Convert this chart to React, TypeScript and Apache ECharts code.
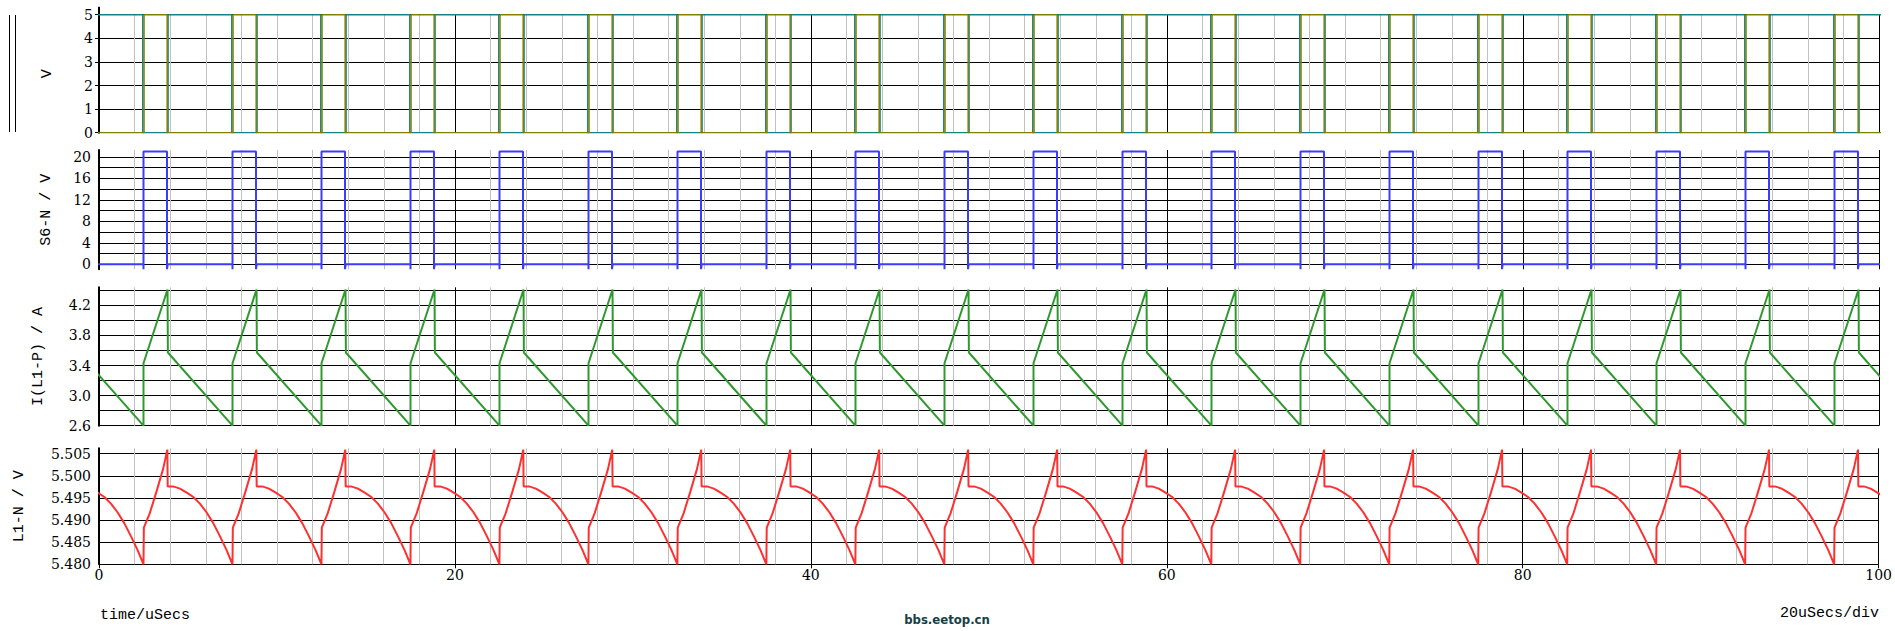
import React, { useEffect, useRef } from 'react';
import * as echarts from 'echarts';

const SERIF = '"DejaVu Serif", "Liberation Serif", serif';
const MONO = '"Liberation Mono", "DejaVu Sans Mono", monospace';

// time axis (µs)
const X_MIN = 0;
const X_MAX = 100;
const X_STEP = 20;

// switch-on instants of the converter (µs), read from the rising edges
const ON_TIMES = [-2.5, 2.5, 7.5, 12.5, 17.5, 22.5, 27.5, 32.5, 37.5, 42.5, 47.5, 52.5, 57.5, 62.5, 67.5, 72.5, 77.5, 82.5, 87.5, 92.5, 97.5, 102.5];

// gate signals (V): high side on-window, low side off-window (offsets from switch-on)
const GATE_LEVEL = 5;
const HS_WINDOW = [0.03, 1.33];
const LS_WINDOW = [-0.04, 1.38];

// S6-N switch node: [offset µs, V]
const S6_SHAPE = [[0, 0], [0, -0.9], [0, 21], [1.32, 21], [1.32, -0.9], [1.36, 0]];

// I(L1-P) per switching cycle: [offset µs, A]
const I_SHAPE = [[0, 2.6], [0, 3.43], [1.35, 4.41], [1.37, 3.573], [5, 2.6]];

// L1-N per switching cycle: [offset µs, V]
const V_SHAPE = [
  [0, 5.48], [0.02, 5.4883], [0.35, 5.4915], [0.72, 5.4963], [1.1, 5.5015], [1.34, 5.5059],
  [1.36, 5.4976], [1.67, 5.4976], [2.05, 5.4971], [2.43, 5.4962], [2.8, 5.4952], [3.17, 5.4937],
  [3.55, 5.4917], [3.92, 5.4893], [4.3, 5.4863], [4.67, 5.4832], [5.0, 5.48],
];

const buildGate = (win: number[], inside: number, outside: number) => {
  const pts: number[][] = [];
  ON_TIMES.forEach((t) => {
    pts.push([t + win[0], outside], [t + win[0], inside], [t + win[1], inside], [t + win[1], outside]);
  });
  return pts;
};

const buildFromShape = (shape: number[][]) => {
  const pts: number[][] = [];
  ON_TIMES.forEach((t) => {
    shape.forEach(([dt, v]) => pts.push([+(t + dt).toFixed(3), v]));
  });
  return pts;
};

const highSide = buildGate(HS_WINDOW, GATE_LEVEL, 0);
const lowSide = buildGate(LS_WINDOW, 0, GATE_LEVEL);
const s6n = buildFromShape(S6_SHAPE);
const iL1 = buildFromShape(I_SHAPE);
const vL1 = buildFromShape(V_SHAPE);

const isStep = (v: number, base: number, step: number) => {
  const k = Math.round((v - base) / step);
  return Math.abs(v - (base + k * step)) < step * 1e-4 ? k : null;
};

const GRIDS = [
  { top: 14.7, height: 118 },
  { top: 150, height: 119.3 },
  { top: 287.3, height: 138.4 },
  { top: 448.3, height: 116 },
];

const App: React.FC = () => {
  const ref = useRef<HTMLDivElement>(null);

  useEffect(() => {
    if (!ref.current) return;
    const chart = echarts.init(ref.current, undefined, { renderer: 'svg' });

    const labelStyle = { color: '#000', fontFamily: SERIF, fontSize: 14, margin: 8 };
    const nameStyle = { color: '#000', fontFamily: MONO, fontSize: 15 };
    const yCommon = (i: number) => ({
      type: 'value',
      gridIndex: i,
      nameLocation: 'middle',
      nameTextStyle: nameStyle,
      axisLine: { show: true, onZero: false, lineStyle: { color: '#000', width: 2 } },
      axisTick: { show: false },
      splitLine: { show: true, showMaxLine: false, lineStyle: { color: '#000', width: 1 } },
    });

    const option: any = {
      animation: false,
      backgroundColor: '#fff',
      textStyle: { fontFamily: SERIF },
      grid: GRIDS.map((g) => ({ left: 99, width: 1780, top: g.top, height: g.height, containLabel: false })),
      xAxis: GRIDS.map((_, i) => ({
        type: 'value',
        gridIndex: i,
        min: X_MIN,
        max: X_MAX,
        interval: X_STEP,
        axisLine: { show: false },
        axisTick: { show: i === 3, length: 4, lineStyle: { color: '#000' } },
        axisLabel: { show: i === 3, color: '#000', fontFamily: SERIF, fontSize: 14, margin: 4 },
        splitLine: { show: true, lineStyle: { color: '#000', width: 1 } },
        minorTick: { show: false, splitNumber: 10 },
        minorSplitLine: { show: true, lineStyle: { color: '#c0c0c0', width: 1 } },
      })),
      yAxis: [
        {
          ...yCommon(0),
          name: 'V',
          nameGap: 44,
          min: 0,
          max: 5,
          interval: 1,
          splitLine: { show: true, lineStyle: { color: '#000', width: 1 } },
          axisTick: { show: true, inside: false, length: 4, lineStyle: { color: '#000' } },
          axisLabel: {
            ...labelStyle,
            margin: 6,
            formatter: (v: number) => (isStep(v, 0, 1) === null ? '' : String(Math.round(v))),
          },
        },
        {
          ...yCommon(1),
          name: 'S6-N / V',
          nameGap: 45,
          min: -0.93,
          max: 21.3,
          minInterval: 2,
          maxInterval: 2,
          splitLine: { show: true, showMinLine: false, showMaxLine: false, lineStyle: { color: '#000', width: 1 } },
          axisLabel: {
            ...labelStyle,
            formatter: (v: number) => {
              const k = isStep(v, 0, 4);
              return k === null ? '' : String(Math.round(v));
            },
          },
        },
        {
          ...yCommon(2),
          name: 'I(L1-P) / A',
          nameGap: 53,
          min: 2.6,
          max: 4.44,
          interval: 0.2,
          axisLabel: {
            ...labelStyle,
            formatter: (v: number) => {
              const k = isStep(v, 2.6, 0.4);
              return k === null || v > 4.3 ? '' : v.toFixed(1);
            },
          },
        },
        {
          ...yCommon(3),
          name: 'L1-N / V',
          nameGap: 72,
          min: 5.48,
          max: 5.5062,
          interval: 0.005,
          axisLabel: {
            ...labelStyle,
            formatter: (v: number) => (isStep(v, 5.48, 0.005) === null ? '' : v.toFixed(3)),
          },
        },
      ],
      series: [
        { name: 'Low side gate', type: 'line', xAxisIndex: 0, yAxisIndex: 0, data: lowSide, showSymbol: false, symbol: 'none', lineStyle: { color: '#168282', width: 1.5 }, itemStyle: { color: '#168282' } },
        { name: 'High side gate', type: 'line', xAxisIndex: 0, yAxisIndex: 0, data: highSide, showSymbol: false, symbol: 'none', lineStyle: { color: '#808000', width: 1.5 }, itemStyle: { color: '#808000' } },
        { name: 'S6-N', type: 'line', xAxisIndex: 1, yAxisIndex: 1, data: s6n, showSymbol: false, symbol: 'none', lineStyle: { color: '#3c3cff', width: 2 }, itemStyle: { color: '#3c3cff' } },
        { name: 'I(L1-P)', type: 'line', xAxisIndex: 2, yAxisIndex: 2, data: iL1, showSymbol: false, symbol: 'none', lineStyle: { color: '#2e9a2e', width: 2 }, itemStyle: { color: '#2e9a2e' } },
        { name: 'L1-N', type: 'line', xAxisIndex: 3, yAxisIndex: 3, data: vL1, showSymbol: false, symbol: 'none', lineStyle: { color: '#ff3030', width: 2 }, itemStyle: { color: '#ff3030' } },
      ],
      graphic: [
        // upward extension of the first panel's axis line
        { type: 'line', shape: { x1: 99, y1: 6.7, x2: 99, y2: 15 }, style: { stroke: '#000', lineWidth: 2 } },
        { type: 'line', shape: { x1: 9.5, y1: 15, x2: 9.5, y2: 132 }, style: { stroke: '#000', lineWidth: 1 } },
        { type: 'line', shape: { x1: 15.5, y1: 15, x2: 15.5, y2: 132 }, style: { stroke: '#000', lineWidth: 1 } },
        { type: 'text', x: 100, y: 615, style: { text: 'time/uSecs', fill: '#000', font: `15px ${MONO}`, textAlign: 'left', textVerticalAlign: 'middle' } },
        { type: 'text', x: 1879, y: 613, style: { text: '20uSecs/div', fill: '#000', font: `15px ${MONO}`, textAlign: 'right', textVerticalAlign: 'middle' } },
        { type: 'text', x: 947, y: 619, style: { text: 'bbs.eetop.cn', fill: '#143f46', font: `bold 13px "Liberation Sans Narrow", "DejaVu Sans Condensed", "Liberation Sans", sans-serif`, textAlign: 'center', textVerticalAlign: 'middle' } },
      ],
    };

    chart.setOption(option);
    return () => chart.dispose();
  }, []);

  return (
    <div
      ref={ref}
      style={{ position: 'absolute', left: 0, top: 0, width: 1895, height: 631, background: '#fff' }}
    />
  );
};

export default App;
